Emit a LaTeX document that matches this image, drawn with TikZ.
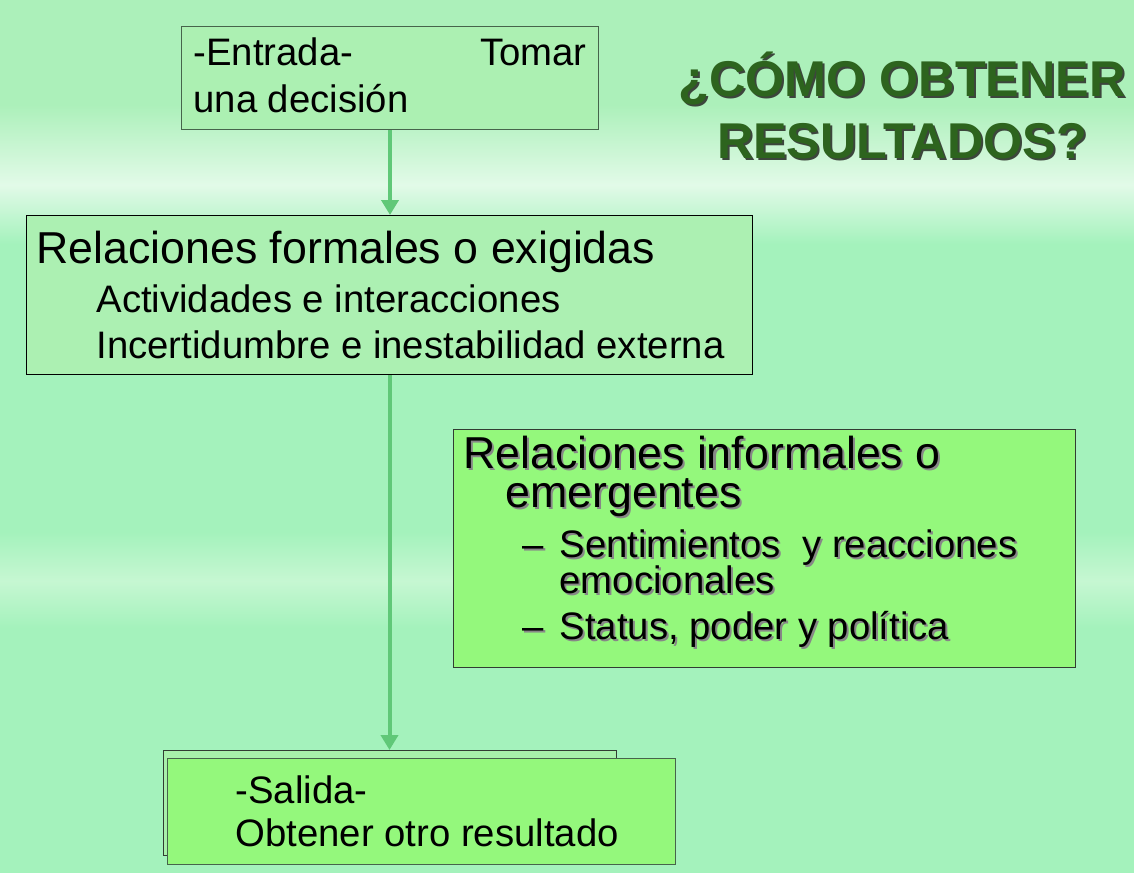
\documentclass[tikz,border=0pt]{standalone}
\usepackage{fontspec}
\setmainfont{Liberation Sans}
\usetikzlibrary{arrows.meta}

\definecolor{fondoarriba}{RGB}{172,240,186}
\definecolor{fondoclaro}{RGB}{226,250,232}
\definecolor{fondomedio}{RGB}{164,242,188}
\definecolor{fondobanda}{RGB}{198,247,210}
\definecolor{cajaclara}{RGB}{172,240,178}
\definecolor{cajaviva}{RGB}{148,248,124}
\definecolor{fondosalida}{RGB}{168,240,170}
\definecolor{flecha}{RGB}{96,200,120}
\definecolor{titulo}{RGB}{45,100,30}
\definecolor{borde}{RGB}{70,100,75}
\definecolor{bordeoscuro}{RGB}{50,60,50}
\definecolor{sombra}{RGB}{135,135,135}
\definecolor{sombratitulo}{RGB}{60,70,60}

\pgfdeclareverticalshading{fondo}{100bp}{color(0bp)=(fondomedio); color(39bp)=(fondomedio); color(41.7bp)=(fondobanda); color(44.5bp)=(fondomedio); color(61bp)=(fondomedio); color(64.4bp)=(fondoclaro); color(69bp)=(fondoarriba); color(100bp)=(fondoarriba)}

\newcommand{\shd}[2][sombra]{\makebox[0pt][l]{\hspace{2pt}\raisebox{-2pt}{\textcolor{#1}{#2}}}#2}
\newcommand{\tam}[2]{\fontsize{#1}{#2}\selectfont\spaceskip=0pt\xspaceskip=0pt}

\begin{document}
\begin{tikzpicture}[x=1pt,y=-1pt,
	caja/.style={rectangle,draw,anchor=north west,inner ysep=0pt,align=left,
		execute at begin node={\parindent=0pt\parskip=0pt\lineskiplimit=-1000pt}},
	clara/.style={caja,fill=cajaclara,draw=borde,line width=1pt},
	viva/.style={caja,fill=cajaviva,draw=bordeoscuro,line width=1.2pt},
	flechaverde/.style={draw=flecha,line width=4pt,-{Triangle[width=17pt,length=15pt]}},
	titulo/.style={anchor=north,inner sep=0pt,align=center,text=titulo,
		font=\bfseries\fontsize{50.3}{62}\selectfont,
		execute at begin node={\lineskiplimit=-1000pt}}]
	\useasboundingbox (0,0) rectangle (1134,872);
	\shade[shading=fondo] (0,0) rectangle (1134,872);

	\node[clara,text width=393pt,inner xsep=12pt] (entrada) at (181,26) {%
		\tam{38.3}{47}\rule{0pt}{39pt}\hbox to 393pt{-Entrada-\hfill Tomar}\par
		una decisión\rule[-17pt]{0pt}{0pt}\par};

	\node[clara,draw=black,text width=706pt,inner xsep=10pt] (formal) at (26,215) {%
		{\tam{44.7}{50}\rule{0pt}{48pt}Relaciones formales o exigidas\par}%
		{\tam{38.3}{49}\leftskip=60pt Actividades e interacciones\par}%
		{\tam{38.3}{46}\leftskip=60pt Incertidumbre e inestabilidad externa\rule[-16pt]{0pt}{0pt}\par}};

	\node[viva,text width=602pt,inner xsep=10pt] (informal) at (453,429) {%
		{\tam{44.7}{39}\rule{0pt}{39pt}\shd{Relaciones informales o}\par}%
		{\tam{44.7}{39}\leftskip=42pt\shd{emergentes}\par}%
		\vskip14pt
		{\tam{38.3}{36}\leftskip=59pt\makebox[37pt][l]{\shd{–}}\shd{Sentimientos\ \ y reacciones}\par}%
		{\tam{38.3}{36}\leftskip=96pt\shd{emocionales}\par}%
		\vskip10pt
		{\tam{38.3}{36}\leftskip=59pt\makebox[37pt][l]{\shd{–}}\shd{Status, poder y política}\rule[-28pt]{0pt}{0pt}\par}};

	\node[clara,fill=fondosalida,draw=bordeoscuro,minimum width=453pt,minimum height=105pt,inner sep=0pt] (salidafondo) at (163,750) {};
	\node[viva,draw=borde,text width=508pt,inner xsep=0pt] (salida) at (167,758) {%
		\tam{38.3}{43}\leftskip=68pt\rule{0pt}{45pt}-Salida-\par
		Obtener otro resultado\rule[-18pt]{0pt}{0pt}\par};

	\node[titulo] (pregunta) at (902,50) {\rule{0pt}{46pt}\shd[sombratitulo]{¿CÓMO OBTENER}\\\shd[sombratitulo]{RESULTADOS?}};

	\draw[flechaverde] (entrada.south) -- (entrada.south |- formal.north);
	\draw[flechaverde] (formal.south) -- (formal.south |- salidafondo.north);
\end{tikzpicture}
\end{document}
